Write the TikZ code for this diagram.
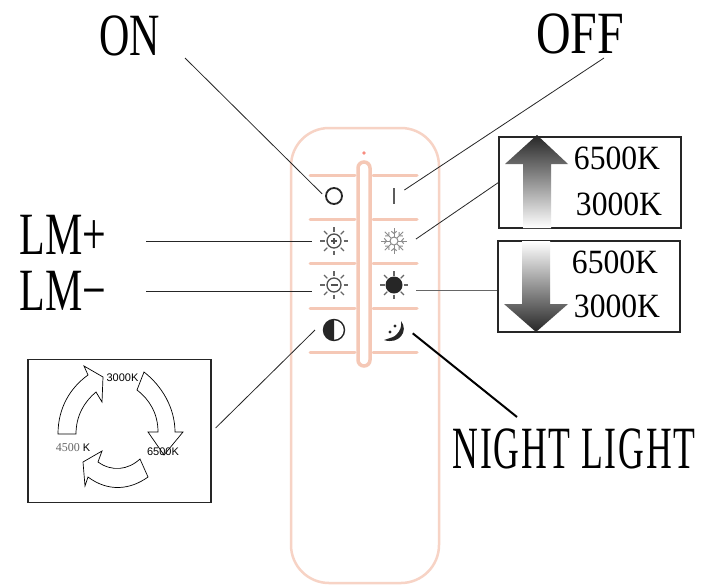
\documentclass[tikz,border=0pt]{standalone}
\usepackage{fontspec}
\setmainfont{Liberation Serif}
\newfontfamily\arialfont{Liberation Sans}
\newfontfamily\spacedfont[LetterSpace=5]{Liberation Serif}
\usepackage{tikz}
\definecolor{salmon}{HTML}{F5C8B6}
\definecolor{iconink}{HTML}{262626}
\tikzset{
  bigtxt/.style={font=\fontsize{60}{60}\selectfont, inner sep=0pt, xscale=0.7},
  boxtxt/.style={font=\fontsize{34}{34}\selectfont, inner sep=0pt, xscale=0.93},
  smalltxt/.style={font=\arialfont\fontsize{11}{11}\selectfont, inner sep=0pt},
  frame/.style={draw=black!85, line width=1.2pt, inner sep=0pt, minimum width=182, minimum height=91},
  btn/.style={circle, inner sep=0pt, minimum size=24, outer sep=0pt},
  widebtn/.style={btn, minimum size=44},
  midbtn/.style={btn, minimum size=38},
  lead/.style={draw=black!85, line width=0.8pt},
  divider/.style={draw=salmon, line width=3pt, line cap=round},
  curved/.style={draw=black, line width=0.7pt, fill=white, line join=miter},
  rayline/.style={draw=black!60, line width=1.3pt},
  flakeline/.style={draw=black!45, line width=1pt}
}
\newcommand{\sunrays}[1]{\foreach \a in {0,45,...,315} \draw[rayline] (#1) ++(\a:9.5) -- ++(\a:4.5);}
\begin{document}
\begin{tikzpicture}[x=1pt, y=-1pt]
\useasboundingbox (0,0) rectangle (714,584);
\fill[white] (0,0) rectangle (714,584);

\draw[draw=salmon!80, line width=2.5pt, rounded corners=38] (291,128) rectangle (439,583);
\fill[red!30!salmon] (364,153) circle (1.8);
\draw[draw=salmon, line width=3.5pt, rounded corners=6] (358,162) rectangle (370,366);
\foreach \y in {175,219,263,308,352} {
  \draw[divider] (310,\y) -- (355,\y);
  \draw[divider] (373,\y) -- (417,\y);
}

\node[btn] (btnon) at (334,196) {};
\node[btn] (btnoff) at (394,196) {};
\node[widebtn] (btnplus) at (334,241) {};
\node[widebtn] (btnsnow) at (394,241) {};
\node[widebtn] (btnminus) at (334,285) {};
\node[widebtn] (btnsun) at (394,285) {};
\node[midbtn] (btnhalf) at (334,330) {};
\node[midbtn] (btnmoon) at (394,330) {};

\draw[draw=iconink, line width=1.8pt] (btnon) circle (8);
\draw[draw=iconink!75, line width=1.6pt] (btnoff) ++(0,-8) -- ++(0,16);

\sunrays{btnplus}
\draw[draw=iconink!80, line width=1.3pt] (btnplus) circle (7);
\draw[iconink!80, line width=1.3pt] (btnplus) ++(-3,0) -- ++(6,0) (btnplus) ++(0,-3) -- ++(0,6);
\sunrays{btnminus}
\draw[draw=iconink!80, line width=1.3pt] (btnminus) circle (7);
\draw[iconink!80, line width=1.5pt] (btnminus) ++(-3.5,0) -- ++(7,0);

\foreach \a in {0,45,...,315} {
  \draw[flakeline] (btnsnow) ++(\a:4) -- ++(\a:9);
  \draw[flakeline] (btnsnow) ++(\a:7.5) ++(\a+50:3.5) -- ++(\a+230:3.5) -- ++(\a-50:3.5);
}
\draw[flakeline] (btnsnow) circle (4);

\sunrays{btnsun}
\fill[iconink] (btnsun) circle (8.5);

\draw[draw=iconink, line width=1.4pt] (btnhalf) circle (10.5);
\fill[iconink] (btnhalf) ++(0,-10.5) arc (270:90:10.5) -- cycle;

\fill[iconink] (401,321) .. controls (409,331) and (399,345) .. (384,340)
  .. controls (390,338) and (395,337) .. (397,334)
  .. controls (400,331) and (402,326) .. (401,321) -- cycle;
\fill[iconink] (395,326) circle (1.6);
\fill[iconink] (390,332) circle (1.7);

\node[bigtxt] (onlbl) at (130,36) {ON};
\node[bigtxt, xscale=1.14] (offlbl) at (580,34) {OFF};
\node[bigtxt] (lmplus) at (63,235) {LM+};
\node[bigtxt] (lmminus) at (63,291) {LM−};
\node[bigtxt, font=\spacedfont\fontsize{60}{60}\selectfont, xscale=0.85] (nightlbl) at (574,449) {NIGHT LIGHT};

\coordinate (onfree) at (185,58);
\coordinate (offfree) at (604,58);
\coordinate (plusfree) at (146,241);
\coordinate (minusfree) at (146,291);
\coordinate (sunfree) at (497,290);
\coordinate (sunend) at (416,290);
\coordinate (minusend) at (312,291);
\coordinate (nightfree) at (517,417);

\node[frame] (boxup) at (590,182.5) {};
\node[frame] (boxdown) at (589,286.5) {};
\node[frame, minimum width=183, minimum height=143] (boxcycle) at (119.5,431) {};

\draw[lead] (onfree) -- (btnon.170);
\draw[lead] (offfree) -- (btnoff.30);
\draw[lead] (plusfree) -- (btnplus);
\draw[lead] (minusfree) -- (minusend);
\draw[lead] (boxup.west) -- (btnsnow.5);
\draw[lead, draw=black!60] (sunfree) -- (sunend);
\draw[lead] (boxcycle.east) ++(4,-3) coordinate (cyclefree) -- (btnhalf.west);
\draw[lead, line width=2pt, draw=black] (nightfree) -- (btnmoon.-10);

\shade[top color=black!85, bottom color=white] (537,135) -- (568,164) -- (551,164) -- (551,228) -- (523,228) -- (523,164) -- (505,164) -- cycle;
\shade[top color=white, bottom color=black!85] (522,241) -- (550,241) -- (550,304) -- (568,304) -- (536,332) -- (504,304) -- (522,304) -- cycle;

\node[boxtxt] (upwarm) at (617,158) {6500K};
\node[boxtxt] (upcool) at (619,204) {3000K};
\node[boxtxt] (downwarm) at (615,262) {6500K};
\node[boxtxt] (downcool) at (617,306) {3000K};

\path[curved] (58,434) .. controls (58,408) and (70,388) .. (88,375) -- (84,366) -- (103,377)
  -- (102,402) -- (96,392) .. controls (84,402) and (76,416) .. (76,434) -- cycle;
\path[curved] (144,372) .. controls (162,386) and (175,408) .. (175,432) -- (183,432) -- (164,455)
  -- (148,432) -- (158,432) .. controls (158,414) and (150,400) .. (137,390) -- cycle;
\path[curved] (148,477) .. controls (130,490) and (108,492) .. (88,477) -- (85,486) -- (83,462)
  -- (102,451) -- (98,462) .. controls (112,472) and (128,470) .. (140,459) -- cycle;

\node[smalltxt] (cyclea) at (122.5,378) {3000K};
\node[smalltxt] (cycleb) at (163,452) {6500K};
\node[smalltxt] (cyclec) at (73,448) {{\rmfamily\fontsize{12}{12}\selectfont\color{black!60}4500} K};
\end{tikzpicture}
\end{document}
